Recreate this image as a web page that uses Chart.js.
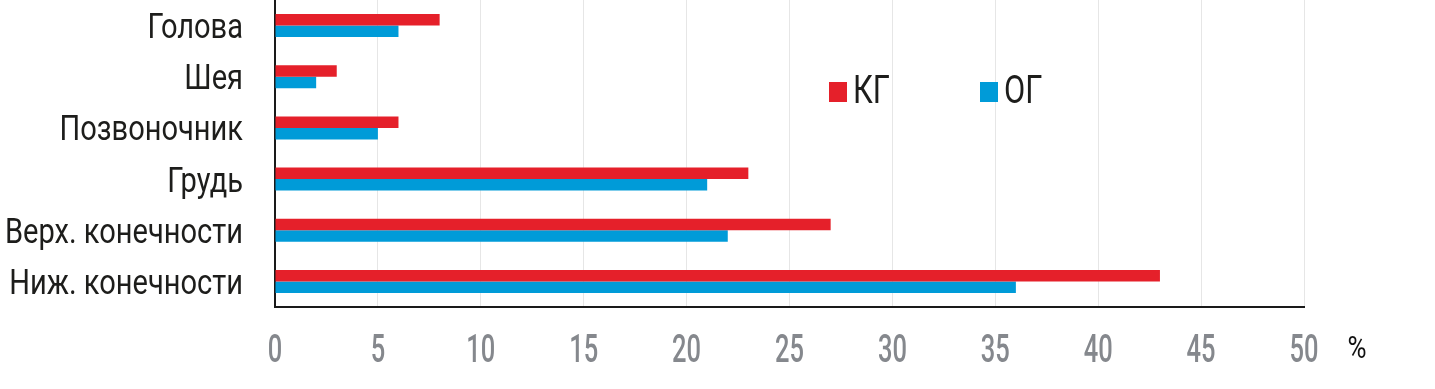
<!DOCTYPE html>
<html>
<head>
<meta charset="utf-8">
<script src="https://cdn.jsdelivr.net/npm/chart.js@4.4.1/dist/chart.umd.min.js"></script>
<style>
html,body{margin:0;padding:0;background:#fff;}
#wrap{width:1435px;height:389px;position:relative;}
</style>
</head>
<body>
<div id="wrap"><canvas id="c" width="1435" height="389"></canvas></div>
<script>
const categories = ["Голова", "Шея", "Позвоночник", "Грудь", "Верх. конечности", "Ниж. конечности"];
const seriesKG = [8, 3, 6, 23, 27, 43];
const seriesOG = [6, 2, 5, 21, 22, 36];
const seriesNames = ["КГ", "ОГ"];
const xTicks = [0, 5, 10, 15, 20, 25, 30, 35, 40, 45, 50];
const unitLabel = "%";

const FONT = "Roboto, 'Liberation Sans', sans-serif";

function condensedText(ctx, text, x, y, size, factor, align, color, weight) {
  ctx.save();
  ctx.font = (weight || 400) + " " + size + "px " + FONT;
  ctx.fillStyle = color;
  ctx.textBaseline = 'alphabetic';
  ctx.textAlign = 'left';
  const w = ctx.measureText(text).width * factor;
  let left = x;
  if (align === 'right') left = x - w;
  else if (align === 'center') left = x - w / 2;
  ctx.translate(left, y);
  ctx.scale(factor, 1);
  ctx.fillText(text, 0, 0);
  ctx.restore();
}

function factorFor(ctx, text, size, target, weight) {
  ctx.save();
  ctx.font = (weight || 400) + " " + size + "px " + FONT;
  const f = target / ctx.measureText(text).width;
  ctx.restore();
  return f;
}

const extras = {
  id: 'extras',
  afterDraw(chart) {
    const ctx = chart.ctx;
    const xs = chart.scales.x, ys = chart.scales.y;
    // y category labels
    const ySize = 35;
    const yf = factorFor(ctx, "Верх. конечности", ySize, 238);
    categories.forEach((c, i) => {
      const yc = ys.getPixelForValue(i);
      condensedText(ctx, c, 243, yc + 12.5, ySize, yf, 'right', '#1d1d1b');
    });
    // x tick labels
    const xSize = 38;
    const xf = factorFor(ctx, "10", xSize, 29, 500);
    xTicks.forEach(v => {
      condensedText(ctx, String(v), xs.getPixelForValue(v), 362, xSize, xf, 'center', '#85888d', 500);
    });
    // legend
    const pos = [829, 980];
    const lf = factorFor(ctx, "КГ", 39, 37);
    chart.data.datasets.forEach((ds, i) => {
      const x = pos[i];
      ctx.fillStyle = ds.backgroundColor;
      ctx.fillRect(x, 82, 18, 20);
      condensedText(ctx, ds.label, x + 24, 103, 39, lf, 'left', '#1d1d1b');
    });
    // unit
    const uf = factorFor(ctx, unitLabel, 31, 19);
    condensedText(ctx, unitLabel, 1357, 358, 31, uf, 'center', '#111');
  }
};

new Chart(document.getElementById('c'), {
  type: 'bar',
  data: {
    labels: categories,
    datasets: [
      {label: seriesNames[0], data: seriesKG, backgroundColor: '#e5202a', categoryPercentage: 0.45, barPercentage: 1.0},
      {label: seriesNames[1], data: seriesOG, backgroundColor: '#009bd8', categoryPercentage: 0.45, barPercentage: 1.0}
    ]
  },
  options: {
    indexAxis: 'y',
    responsive: false,
    animation: false,
    layout: {padding: {top: 0, right: 131, left: 0, bottom: 0}},
    plugins: {legend: {display: false}, tooltip: {enabled: false}},
    scales: {
      x: {
        min: 0, max: 50,
        afterBuildTicks(scale) { scale.ticks = xTicks.map(v => ({value: v})); },
        afterFit(scale) { scale.height = 82; },
        grid: {color: '#e6e6e6', lineWidth: 1, drawTicks: false},
        border: {color: '#1a1a1a', width: 2},
        ticks: {display: false}
      },
      y: {
        afterFit(scale) { scale.width = 275; },
        grid: {display: false, drawTicks: false},
        border: {color: '#1a1a1a', width: 2},
        ticks: {display: false, autoSkip: false}
      }
    }
  },
  plugins: [extras]
});
</script>
</body>
</html>
